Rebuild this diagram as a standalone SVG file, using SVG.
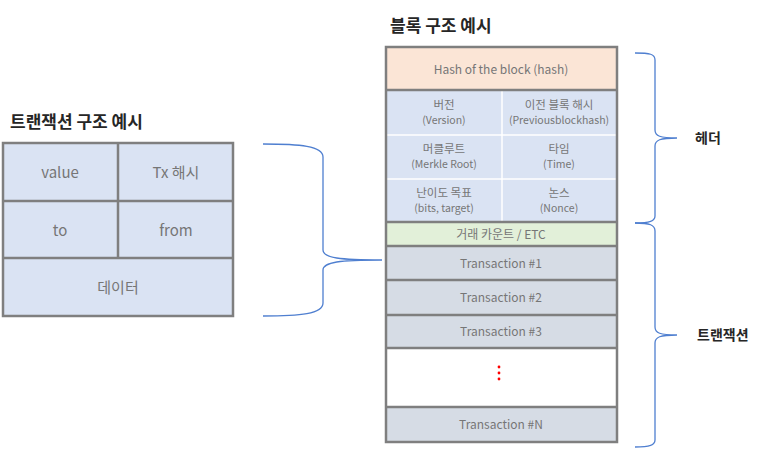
<svg xmlns="http://www.w3.org/2000/svg" width="770" height="457" viewBox="0 0 770 457">
<style>
.t{font-family:"Noto Sans CJK KR","Noto Sans",sans-serif;fill:#767676;text-anchor:middle}
.h{font-family:"Noto Sans CJK KR","Noto Sans",sans-serif;fill:#262626;font-weight:bold}
.b{fill:none;stroke:#7f7f7f;stroke-width:2.5}
.w{stroke:#ffffff;stroke-width:1.5}
.br{fill:none;stroke:#4f7fd0;stroke-width:1.3}
</style>
<rect width="770" height="457" fill="#ffffff"/>
<text class="h" x="10" y="128" font-size="17">트랜잭션 구조 예시</text>
<text class="h" x="390" y="32" font-size="17">블록 구조 예시</text>
<g id="tx-table">
<rect x="3" y="143" width="230" height="173" fill="#dae3f3"/>
<path class="b" d="M3 143H233V316H3Z M118 143V258 M3 201H233 M3 258H233"/>
<text class="t" x="60" y="178" font-size="15">value</text>
<text class="t" x="176" y="178" font-size="15">Tx 해시</text>
<text class="t" x="60" y="236" font-size="15">to</text>
<text class="t" x="176" y="236" font-size="15">from</text>
<text class="t" x="118" y="293" font-size="15">데이터</text>
</g>
<g id="block">
<rect x="386" y="47" width="231" height="43" fill="#fbe5d6"/>
<rect x="386" y="90" width="231" height="132" fill="#dae3f3"/>
<rect x="386" y="222" width="231" height="24" fill="#e2f0d9"/>
<rect x="386" y="246" width="231" height="102" fill="#d6dce5"/>
<rect x="386" y="348" width="231" height="59" fill="#ffffff"/>
<rect x="386" y="407" width="231" height="35" fill="#d6dce5"/>
<path class="w" d="M502 91V221 M387 135H616 M387 179H616"/>
<path class="b" d="M386 47H617V442H386Z M386 90H617 M386 222H617 M386 246H617 M386 280H617 M386 315H617 M386 348H617 M386 407H617"/>
<text class="t" x="501" y="74" font-size="12">Hash of the block (hash)</text>
<text class="t" x="444" y="109" font-size="11.5">버전</text>
<text class="t" x="444" y="124" font-size="10.5">(Version)</text>
<text class="t" x="559" y="109" font-size="11.5">이전 블록 해시</text>
<text class="t" x="559" y="124" font-size="10.5">(Previousblockhash)</text>
<text class="t" x="444" y="153" font-size="11.5">머클루트</text>
<text class="t" x="444" y="168" font-size="10.5">(Merkle Root)</text>
<text class="t" x="559" y="153" font-size="11.5">타임</text>
<text class="t" x="559" y="168" font-size="10.5">(Time)</text>
<text class="t" x="444" y="197" font-size="11.5">난이도 목표</text>
<text class="t" x="444" y="212" font-size="10.5">(bits, target)</text>
<text class="t" x="559" y="197" font-size="11.5">논스</text>
<text class="t" x="559" y="212" font-size="10.5">(Nonce)</text>
<text class="t" x="501" y="239" font-size="12">거래 카운트 / ETC</text>
<text class="t" x="501" y="268" font-size="12">Transaction #1</text>
<text class="t" x="501" y="302" font-size="12">Transaction #2</text>
<text class="t" x="501" y="336" font-size="12">Transaction #3</text>
<circle cx="499" cy="367" r="1.4" fill="#ff0000"/>
<circle cx="499" cy="373" r="1.4" fill="#ff0000"/>
<circle cx="499" cy="379" r="1.4" fill="#ff0000"/>
<text class="t" x="501" y="429" font-size="12">Transaction #N</text>
</g>
<g id="connectors">
<path class="br" d="M263 144C300 144 323 146 323 157V250C323 258 340 260 382 260C340 260 323 262 323 270V303C323 314 300 316 263 316"/>
<path class="br" d="M635 53C650 53 655 54 655 60V130C655 136 660 138 677 138C660 138 655 140 655 146V216C655 221 650 223 635 223"/>
<path class="br" d="M635 223C650 223 655 225 655 231V327C655 333 660 335 677 335C660 335 655 337 655 343V440C655 445 650 447 635 447"/>
</g>
<text class="h" x="695" y="143" font-size="14">헤더</text>
<text class="h" x="697" y="340" font-size="14">트랜잭션</text>
</svg>
